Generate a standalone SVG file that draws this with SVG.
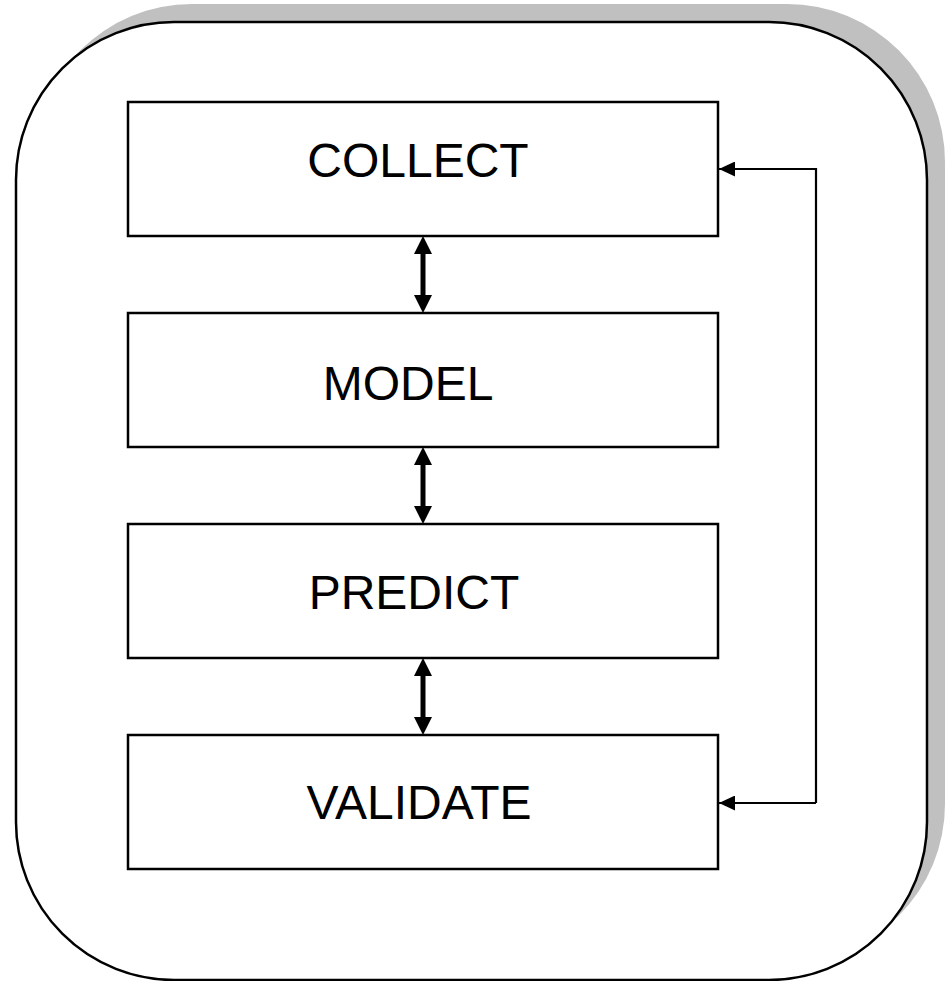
<svg xmlns="http://www.w3.org/2000/svg" width="951" height="981" viewBox="0 0 951 981">
<defs>
<style>
.box{fill:#fff;stroke:#000;stroke-width:2.5}
.lbl{font-family:"Liberation Sans",Arial,sans-serif;font-size:48px;fill:#000;text-anchor:middle}
.dbl{stroke:#000;stroke-width:5;fill:none}
.loop{stroke:#000;stroke-width:2.2;fill:none}
.head{fill:#000}
</style>
<marker id="small" markerUnits="userSpaceOnUse" markerWidth="16" markerHeight="15" refX="16" refY="7.5" orient="auto" viewBox="0 0 16 15">
<path d="M0,0 L16,7.5 L0,15 Z" fill="#000"/>
</marker>
</defs>
<g id="frame">
<rect x="34" y="4" width="911" height="958" rx="158" ry="158" fill="#c0c0c0"/>
<rect x="16" y="22" width="911" height="958" rx="158" ry="158" fill="#fff" stroke="#000" stroke-width="2.5"/>
</g>
<g id="connectors">
<line class="dbl" x1="423" y1="250" x2="423" y2="299"/>
<path class="head" d="M423,236 L432,254 L414,254 Z M423,313 L432,295 L414,295 Z"/>
<line class="dbl" x1="423" y1="461" x2="423" y2="510"/>
<path class="head" d="M423,447 L432,465 L414,465 Z M423,524 L432,506 L414,506 Z"/>
<line class="dbl" x1="423" y1="672" x2="423" y2="721"/>
<path class="head" d="M423,658 L432,676 L414,676 Z M423,735 L432,717 L414,717 Z"/>
<polyline class="loop" points="816,803 816,169 719,169" marker-end="url(#small)"/>
<polyline class="loop" points="816,803 719,803" marker-end="url(#small)"/>
</g>
<g id="collect">
<rect class="box" x="128" y="102" width="590" height="134"/>
<text class="lbl" x="418" y="177">COLLECT</text>
</g>
<g id="model">
<rect class="box" x="128" y="313" width="590" height="134"/>
<text class="lbl" x="408" y="400">MODEL</text>
</g>
<g id="predict">
<rect class="box" x="128" y="524" width="590" height="134"/>
<text class="lbl" x="414" y="609">PREDICT</text>
</g>
<g id="validate">
<rect class="box" x="128" y="735" width="590" height="134"/>
<text class="lbl" x="419" y="819">VALIDATE</text>
</g>
</svg>
